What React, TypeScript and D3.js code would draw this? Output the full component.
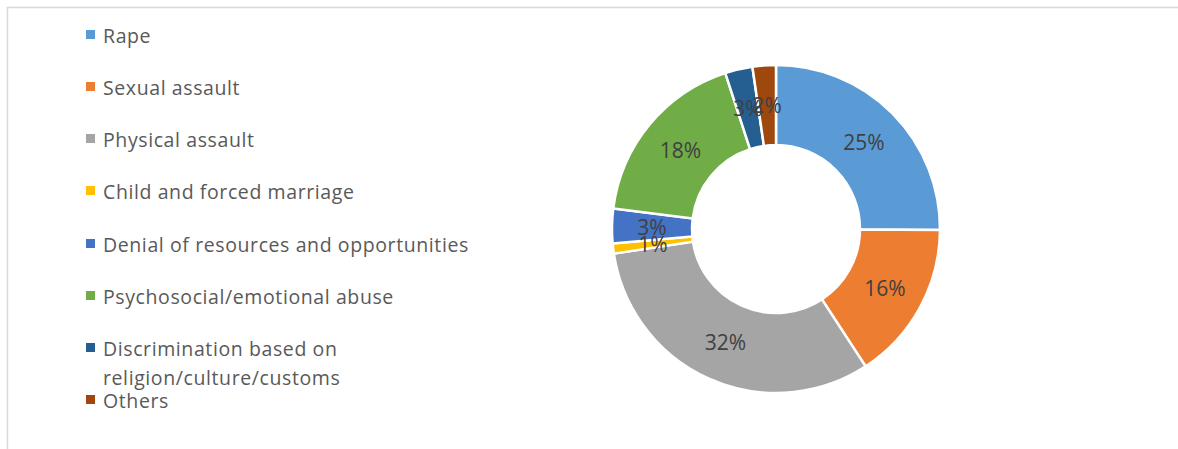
import React from "react";
import * as d3 from "d3";

const categories = [
  "Rape",
  "Sexual assault",
  "Physical assault",
  "Child and forced marriage",
  "Denial of resources and opportunities",
  "Psychosocial/emotional abuse",
  "Discrimination based on religion/culture/customs",
  "Others",
];
const values = [25.1, 15.7, 31.8, 1.0, 3.4, 18.0, 2.7, 2.3];
const colors = ["#5b9bd5", "#ed7d31", "#a5a5a5", "#ffc000", "#4472c4", "#70ad47", "#255e91", "#9e480e"];
const legendLines = [
  ["Rape"],
  ["Sexual assault"],
  ["Physical assault"],
  ["Child and forced marriage"],
  ["Denial of resources and opportunities"],
  ["Psychosocial/emotional abuse"],
  ["Discrimination based on", "religion/culture/customs"],
  ["Others"],
];
const legendY = [35, 87, 139, 191, 244, 296, 348, 400];

export default function App() {
  const W = 1178, H = 449;
  const cx = 776, cy = 229, R = 164, r = 84;
  const total = d3.sum(values);
  const pie = d3.pie<number>().sort(null).value((d) => d);
  const arcs = pie(values);
  const arc = d3.arc<d3.PieArcDatum<number>>().innerRadius(r).outerRadius(R);
  const labelArc = d3.arc<d3.PieArcDatum<number>>().innerRadius((r + R) / 2).outerRadius((r + R) / 2);
  const font = "'Open Sans', 'Noto Sans', sans-serif";
  return (
    <svg width={W} height={H} style={{ position: "absolute", left: 0, top: 0, background: "#fff" }} fontFamily={font}>
      <line x1={7} y1={7.5} x2={W} y2={7.5} stroke="#d9d9d9" strokeWidth={1.5} />
      <line x1={7.5} y1={7} x2={7.5} y2={H} stroke="#d9d9d9" strokeWidth={1.5} />
      <g transform={`translate(${cx},${cy})`}>
        {arcs.map((a, i) => (
          <path key={i} d={arc(a) || ""} fill={colors[i]} stroke="#fff" strokeWidth={2.5} />
        ))}
        {arcs.map((a, i) => {
          const [x, y] = labelArc.centroid(a);
          return (
            <text key={"t" + i} x={x} y={y} textAnchor="middle" dominantBaseline="central" fontSize={21} fill="#404040">
              {Math.round((values[i] / total) * 100)}%
            </text>
          );
        })}
      </g>
      {legendLines.map((lines, i) => (
        <g key={"l" + i}>
          <rect x={86} y={legendY[i] - 5} width={9} height={9} fill={colors[i]} />
          {lines.map((ln, j) => (
            <text key={j} x={103} y={legendY[i] + j * 29} dominantBaseline="central" fontSize={19.5} letterSpacing={0.6} fill="#595959">
              {ln}
            </text>
          ))}
        </g>
      ))}
    </svg>
  );
}
